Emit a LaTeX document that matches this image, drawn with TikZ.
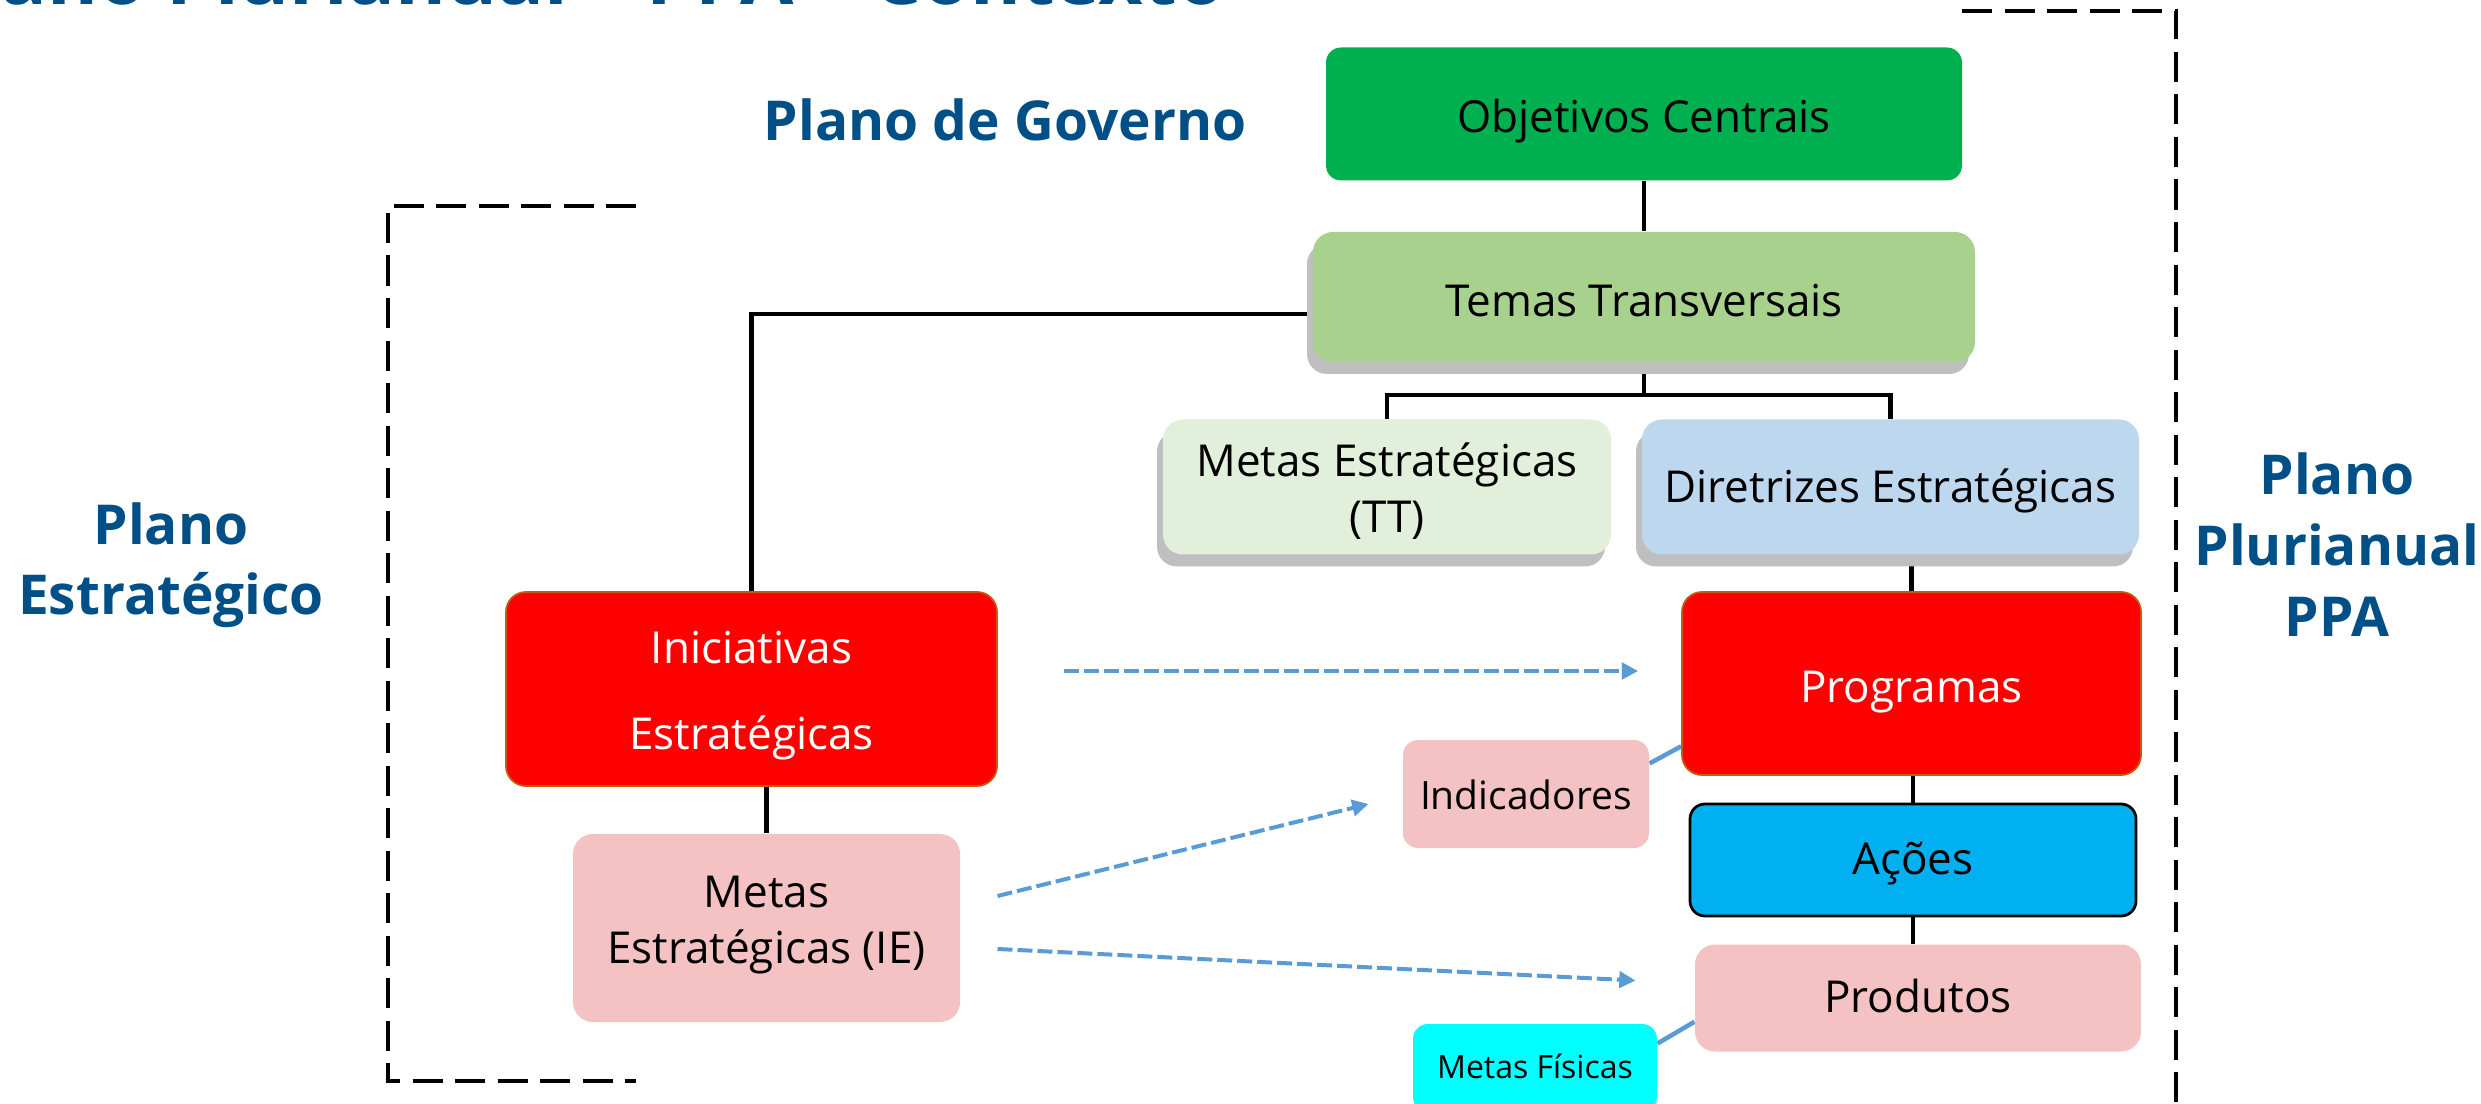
\documentclass[tikz,border=0pt]{standalone}
\usepackage{fontspec}
\setmainfont{Open Sans}
\usetikzlibrary{calc,shadows,backgrounds,arrows.meta}
\definecolor{lblue}{RGB}{0,79,134}
\definecolor{cblue}{RGB}{91,155,213}
\definecolor{shgray}{RGB}{191,191,191}
\definecolor{dgreen}{RGB}{0,176,80}
\definecolor{mgreen}{RGB}{169,209,142}
\definecolor{lgreen}{RGB}{226,239,218}
\definecolor{lbluebox}{RGB}{189,215,238}
\definecolor{pinkbox}{RGB}{244,194,194}
\definecolor{acblue}{RGB}{0,176,240}
\definecolor{aqua}{RGB}{0,255,255}
\definecolor{redbrd}{RGB}{197,90,17}
\newcommand{\mystrutH}[1]{\rule{0pt}{#1}}
\newcommand{\mystrutD}[1]{\rule[-#1]{0pt}{#1}}
\begin{document}
\begin{tikzpicture}[x=0.4pt,y=-0.4pt,
  bx/.style={rounded corners=8pt, inner sep=0pt, align=center,
    font=\fontsize{17.6pt}{22.6pt}\selectfont, text=black},
  one/.style={text height=#1, text depth=0pt},
  conn/.style={line width=1.9pt, black},
  bconn/.style={line width=1.8pt, cblue},
  dasharr/.style={line width=1.6pt, cblue, dash pattern=on 6pt off 2pt,
    -{Triangle[length=6.5pt,width=6.5pt]}},
  brk/.style={line width=1.6pt, black, dash pattern=on 12pt off 5pt},
  shd/.style={drop shadow={shadow xshift=-2.4pt, shadow yshift=-4.8pt, opacity=1, fill=shgray}},
  lbl/.style={font=\fontsize{22pt}{28.3pt}\selectfont\bfseries, text=lblue, align=center, inner sep=0pt}]
\useasboundingbox (0,0) rectangle (2481,1104);
\clip (0,0) rectangle (2481,1104);

% title (cut off at top)
\node[anchor=base east, inner sep=0pt, font=\fontsize{31pt}{36pt}\selectfont\bfseries, text=lblue] (title) at (1226,5) {Plano Plurianual – PPA – Contexto};

% labels
\node[lbl, anchor=base] (pgov) at (1005,141) {Plano de Governo};
\node[lbl] (pest) at (171,562) {\mystrutH{20pt}Plano\\Estratégico\mystrutD{6pt}};
\node[lbl] (pppa) at (2337,548) {\mystrutH{20pt}Plano\\Plurianual\\PPA\mystrutD{6pt}};

% boxes
\node[bx, one=14.8pt, fill=dgreen, rounded corners=6pt, minimum width=254.4pt, minimum height=53.2pt] (obj) at (1644,114) {Objetivos Centrais};
\node[bx, one=15.6pt, shd, fill=mgreen, minimum width=264.8pt, minimum height=52pt] (temas) at (1644,297) {Temas Transversais};
\node[bx, shd, fill=lgreen, minimum width=179.2pt, minimum height=54pt] (metastt) at (1387,487) {\mystrutH{19pt}Metas Estratégicas\\(TT)\mystrutD{5pt}};
\node[bx, one=12.2pt, shd, fill=lbluebox, minimum width=198.8pt, minimum height=54pt] (diret) at (1890.5,487) {Diretrizes Estratégicas};
\node[bx, fill=red, draw=redbrd, line width=0.7pt, text=white, minimum width=196.4pt, minimum height=77.6pt,
  font=\fontsize{17.6pt}{34.7pt}\selectfont] (inic) at (751.5,689) {\mystrutH{18.9pt}Iniciativas\\Estratégicas\mystrutD{5pt}};
\node[bx, fill=pinkbox, minimum width=154.8pt, minimum height=75.2pt] (metasie) at (766.5,928) {\mystrutH{13pt}Metas\\Estratégicas (IE)\mystrutD{6.9pt}};
\node[bx, one=15pt, fill=red, draw=redbrd, line width=0.7pt, text=white, minimum width=183.6pt, minimum height=73.2pt] (prog) at (1911.5,683.5) {Programas};
\node[bx, one=11.6pt, fill=acblue, draw=black, line width=1.1pt, rounded corners=6pt, minimum width=178.4pt, minimum height=44.8pt] (acoes) at (1913,860) {Ações};
\node[bx, one=11.2pt, fill=pinkbox, minimum width=178.4pt, minimum height=42.8pt] (prod) at (1918,998) {Produtos};
\node[bx, one=12.6pt, fill=pinkbox, rounded corners=6pt, minimum width=98.4pt, minimum height=43.2pt,
  font=\fontsize{15.6pt}{20pt}\selectfont] (indic) at (1526,794) {Indicadores};
\node[bx, one=8.2pt, fill=aqua, rounded corners=6pt, minimum width=97.6pt, minimum height=35.2pt,
  font=\fontsize{12.8pt}{16pt}\selectfont] (metasf) at (1535,1068) {Metas Físicas};

% connectors behind boxes
\begin{scope}[on background layer]
  \fill[white] (0,0) rectangle (2481,1104);
  \draw[conn] (obj.south) -- (temas.north);
  \coordinate (bar) at (1644,395);
  \draw[conn] (temas.south) -- (bar);
  \draw[conn] (metastt.north) |- (bar) -| (diret.north);
  \draw[conn] (inic.north) |- ($(temas.west)+(0,17)$);
  \draw[conn] (prog.north) -- (prog.north |- diret.south);
  \draw[conn] (acoes.north) -- (acoes.north |- prog.south);
  \draw[conn] (acoes.south) -- (acoes.south |- prod.north);
  \draw[conn] (metasie.north) -- (metasie.north |- inic.south);
  \draw[bconn] ($(indic.north east)!0.22!(indic.south east)$) -- ($(prog.south west)!0.16!(prog.north west)$);
  \draw[bconn] ($(metasf.north east)+(0,20)$) -- ($(prod.north west)!0.72!(prod.south west)$);
\end{scope}

% dashed arrows
\draw[dasharr] ($(inic.east)+(66,-18)$) -- ($(prog.west)+(-43,-12.5)$);
\draw[dasharr] ($(metasie.east)+(37,-32)$) -- ($(indic.west)+(-34,10)$);
\draw[dasharr] ($(metasie.east)+(37,21)$) -- ($(prod.west)+(-59,-17.5)$);

% dashed brackets
\draw[brk] (636,206) -- (388,206) -- (388,1081) -- (636,1081);
\draw[brk] (1962,11) -- (2176,11) -- (2176,1110);
\end{tikzpicture}
\end{document}
